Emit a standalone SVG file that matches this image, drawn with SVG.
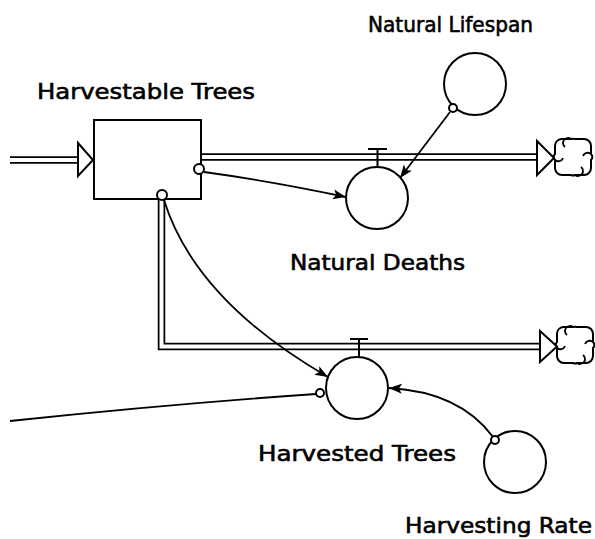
<svg xmlns="http://www.w3.org/2000/svg" width="595" height="539" viewBox="0 0 595 539">
<style>
.lbl{font-family:"DejaVu Sans","Liberation Sans",sans-serif;font-size:21px;fill:#000;stroke:#000;stroke-width:0.6}
.shape{fill:#fff;stroke:#000;stroke-width:2}
.pipeo{fill:none;stroke:#000;stroke-width:7.5;stroke-linejoin:miter}
.pipei{fill:none;stroke:#fff;stroke-width:4}
.conn{fill:none;stroke:#000;stroke-width:1.8}
.tail{fill:#fff;stroke:#000;stroke-width:2}
.valve{fill:none;stroke:#000;stroke-width:2}
.cloud{fill:#fff;stroke:#000;stroke-width:2}
.curl{fill:none;stroke:#000;stroke-width:1.8}
</style>
<defs>
<marker id="ah" markerWidth="14" markerHeight="12" refX="13" refY="6" orient="auto" markerUnits="userSpaceOnUse">
<path d="M0,1 L13,6 L0,11 L3,6 Z" fill="#000"/>
</marker>
<g id="cloudShape">
<path class="cloud" d="M-12,-18 H-2 A6,6 0 0 1 2,-18 H11 A7,7 0 0 1 18,-11 V-3 A4,4 0 0 1 18,3 V11 A7,7 0 0 1 11,18 H2 A5,5 0 0 1 -2,18 H-11 A7,7 0 0 1 -18,11 V3 A4,4 0 0 1 -18,-3 V-11 A7,7 0 0 1 -12,-18 Z"/>
<path class="curl" d="M-2,-18 A5,5 0 0 0 -8,-10 M18,-3 A5,5 0 0 0 10,-1 M2,18 A5,5 0 0 0 8,10 M-18,3 A5,5 0 0 0 -10,1"/>
</g>
</defs>

<g id="harvestable-trees">
<rect class="shape" x="94" y="120" width="107" height="79"/>
<text class="lbl" x="37" y="99" textLength="218" lengthAdjust="spacingAndGlyphs">Harvestable Trees</text>
</g>
<g id="natural-deaths">
<circle class="shape" cx="377" cy="198" r="31"/>
<text class="lbl" x="290" y="270" textLength="175" lengthAdjust="spacingAndGlyphs">Natural Deaths</text>
</g>
<g id="natural-lifespan">
<circle class="shape" cx="475" cy="84" r="31"/>
<text class="lbl" x="368" y="32" textLength="165" lengthAdjust="spacingAndGlyphs">Natural Lifespan</text>
</g>
<g id="harvested-trees">
<circle class="shape" cx="357" cy="388" r="31"/>
<text class="lbl" x="258" y="461" textLength="198" lengthAdjust="spacingAndGlyphs">Harvested Trees</text>
</g>
<g id="harvesting-rate">
<circle class="shape" cx="515" cy="462" r="31"/>
<text class="lbl" x="405" y="533" textLength="187" lengthAdjust="spacingAndGlyphs">Harvesting Rate</text>
</g>
<g id="cloud-1">
<use href="#cloudShape" x="573" y="157"/>
</g>
<g id="cloud-2">
<use href="#cloudShape" x="575" y="345"/>
</g>

<g id="connectors">
<!-- inflow pipe -->
<path class="pipeo" d="M10,160 H80"/>
<path class="pipei" d="M10,160 H82"/>
<polygon class="shape" points="78,143 93,160 78,176"/>
<!-- natural deaths outflow -->
<path class="pipeo" d="M201,157 H538"/>
<path class="pipei" d="M202,157 H540"/>
<polygon class="shape" points="537,141 554,158 537,175"/>
<!-- harvest outflow -->
<path class="pipeo" d="M161.5,199 V346.5 H541"/>
<path class="pipei" d="M161.5,200 V346.5 H543"/>
<polygon class="shape" points="540,331 557,346.5 540,362"/>
<!-- valves -->
<path class="valve" d="M368,149 H387 M377.5,149 V167"/>
<path class="valve" d="M350,339 H368 M359,339 V357"/>
<!-- info connectors -->
<path class="conn" d="M204,172 Q270,181 346,197" marker-end="url(#ah)"/>
<path class="conn" d="M450,112 L400,178" marker-end="url(#ah)"/>
<path class="conn" d="M164,200 Q195,300 328,377" marker-end="url(#ah)"/>
<path class="conn" d="M493,437 Q460,392 389,388" marker-end="url(#ah)"/>
<path class="conn" d="M10,421 Q170,404 316,394"/>
<circle class="tail" cx="199" cy="169" r="5"/>
<circle class="tail" cx="162" cy="195" r="5"/>
<circle class="tail" cx="453" cy="108" r="4"/>
<circle class="tail" cx="495" cy="440" r="4"/>
<circle class="tail" cx="320" cy="393" r="4"/>
</g>
</svg>
